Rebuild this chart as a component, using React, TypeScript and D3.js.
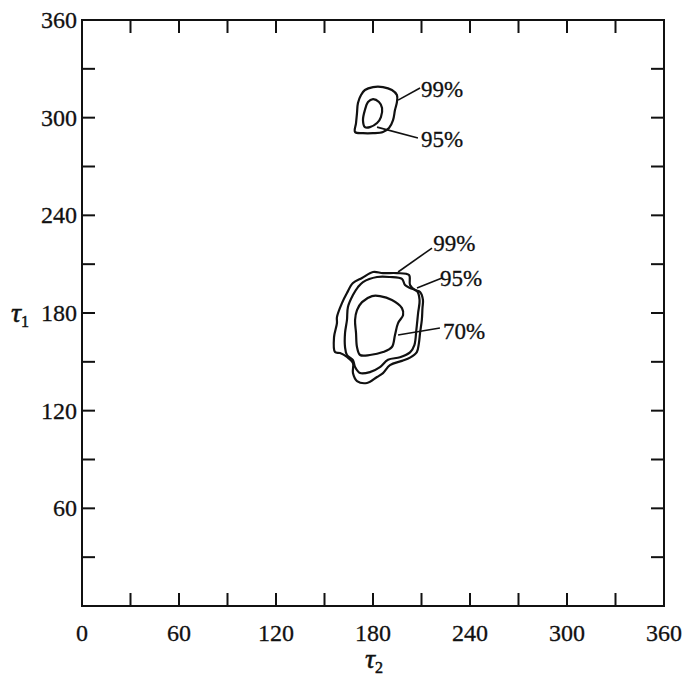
import React from "react";
import * as d3 from "d3";

// Axis ticks (degrees)
const minorTicks = [30, 60, 90, 120, 150, 180, 210, 240, 270, 300, 330];
const xTickLabels = [0, 60, 120, 180, 240, 300, 360];
const yTickLabels = [60, 120, 180, 240, 300, 360];

// Confidence contours as [tau2, tau1] vertices
const upper99: [number, number][] = [
  [175.0, 317.0], [180.0, 318.8], [186.2, 318.8], [191.7, 317.0], [194.8, 313.9],
  [194.8, 309.6], [193.6, 304.7], [192.4, 298.5], [189.9, 293.6], [186.2, 291.2],
  [180.0, 290.5], [173.8, 290.5], [168.9, 291.2], [169.5, 296.7], [170.1, 302.8],
  [170.7, 309.0], [172.6, 313.9],
];
const upper95: [number, number][] = [
  [176.9, 309.6], [180.0, 311.4], [183.7, 309.6], [185.6, 305.9], [184.9, 300.4],
  [182.5, 296.7], [178.1, 294.2], [175.0, 294.2], [173.8, 298.5], [175.0, 304.7],
];
const main99: [number, number][] = [
  [173.2, 201.5], [180.0, 205.2], [186.2, 204.5], [194.8, 204.5], [202.3, 203.3],
  [202.9, 197.2], [206.0, 194.1], [209.1, 192.9], [210.9, 188.0], [210.6, 183.0],
  [210.2, 175.7], [209.1, 167.7], [208.4, 161.5], [207.1, 156.0], [202.9, 152.6],
  [197.9, 150.6], [190.5, 148.0], [186.2, 143.1], [182.5, 140.7], [176.3, 137.0],
  [170.1, 138.2], [167.6, 143.1], [167.6, 149.3], [163.9, 153.0], [159.6, 155.4],
  [156.5, 156.0], [155.9, 165.2], [157.7, 173.8], [157.7, 177.5], [160.8, 186.1],
  [163.9, 192.3], [167.6, 198.4],
];
const main95: [number, number][] = [
  [173.8, 199.0], [182.5, 202.1], [190.5, 202.1], [197.9, 200.9], [199.8, 197.2],
  [202.9, 195.3], [207.2, 193.5], [208.8, 188.0], [207.9, 180.0], [206.8, 169.5],
  [205.6, 160.3], [202.9, 155.8], [196.7, 152.8], [189.3, 151.3], [184.3, 146.8],
  [178.1, 143.7], [172.0, 143.1], [168.9, 146.8], [167.6, 151.1], [163.9, 154.2],
  [162.7, 159.1], [162.7, 167.7], [163.9, 175.7], [164.5, 183.7], [167.6, 191.0],
  [170.7, 195.9],
];
const main70: [number, number][] = [
  [170.1, 181.8], [173.2, 186.7], [179.4, 190.4], [184.3, 190.4], [191.7, 188.0],
  [197.9, 183.0], [198.6, 178.7], [195.5, 173.8], [193.6, 166.5], [191.7, 159.1],
  [186.2, 156.0], [178.1, 154.2], [172.0, 154.2], [170.1, 159.1], [169.5, 167.7],
  [168.9, 175.7],
];
const contours = [upper99, upper95, main99, main95, main70];

// Contour labels: text, leader start (on contour), leader end, text anchor point
const labelTexts = ["99%", "95%", "99%", "95%", "70%"];
const leaderFrom: [number, number][] = [
  [195.5, 310.8], [182.5, 294.2], [195.5, 205.2], [207.2, 195.3], [195.5, 166.5],
];
const leaderTo: [number, number][] = [
  [209.1, 318.2], [207.8, 287.5], [216.5, 219.9], [222.7, 201.5], [221.4, 170.8],
];
const textAt: [number, number][] = [
  [209.7, 312.8], [209.7, 282.2], [217.3, 218.3], [221.4, 196.8], [223.3, 164.2],
];

const W = 684;
const H = 677;
const left = 82;
const right = 664;
const top = 20;
const bottom = 606;

export default function App() {
  const x = d3.scaleLinear().domain([0, 360]).range([left, right]);
  const y = d3.scaleLinear().domain([0, 360]).range([bottom, top]);
  const line = d3
    .line<[number, number]>()
    .x((d) => x(d[0]))
    .y((d) => y(d[1]))
    .curve(d3.curveCatmullRomClosed.alpha(0.5));

  const tickLen = 13;
  const font = "'Liberation Serif', 'Times New Roman', serif";

  return (
    <svg
      width={W}
      height={H}
      viewBox={`0 0 ${W} ${H}`}
      style={{ position: "absolute", left: 0, top: 0, background: "#fff" }}
    >
      <rect x={0} y={0} width={W} height={H} fill="#fff" />
      <g stroke="#111" strokeWidth={2} fill="none">
        <rect x={left} y={top} width={right - left} height={bottom - top} />
        {minorTicks.map((t) => (
          <g key={"t" + t}>
            <line x1={x(t)} x2={x(t)} y1={bottom} y2={bottom - tickLen} />
            <line x1={x(t)} x2={x(t)} y1={top} y2={top + tickLen} />
            <line x1={left} x2={left + tickLen} y1={y(t)} y2={y(t)} />
            <line x1={right} x2={right - tickLen} y1={y(t)} y2={y(t)} />
          </g>
        ))}
      </g>

      <g fontFamily={font} fontSize={24} fill="#111" stroke="#111" strokeWidth={0.3}>
        {xTickLabels.map((t) => (
          <text key={"xl" + t} x={x(t)} y={bottom + 35} textAnchor="middle">
            {t}
          </text>
        ))}
        {yTickLabels.map((t) => (
          <text key={"yl" + t} x={left - 5} y={y(t) + 8} textAnchor="end">
            {t}
          </text>
        ))}
      </g>

      <g fontFamily={font} fill="#111" stroke="#111" strokeWidth={0.5}>
        <text x={365} y={668} fontSize={28} fontStyle="italic">
          τ<tspan fontSize={16} fontStyle="normal" dy={5}>2</tspan>
        </text>
        <text x={11} y={322} fontSize={28} fontStyle="italic">
          τ<tspan fontSize={16} fontStyle="normal" dy={5}>1</tspan>
        </text>
      </g>

      <g fill="none" stroke="#111" strokeWidth={2.2} strokeLinejoin="round">
        {contours.map((c, i) => (
          <path key={"c" + i} d={line(c) ?? ""} />
        ))}
      </g>

      <g stroke="#111" strokeWidth={1.6}>
        {leaderFrom.map((p, i) => (
          <line
            key={"ld" + i}
            x1={x(p[0])}
            y1={y(p[1])}
            x2={x(leaderTo[i][0])}
            y2={y(leaderTo[i][1])}
          />
        ))}
      </g>
      <g fontFamily={font} fontSize={23} fill="#111" stroke="#111" strokeWidth={0.3}>
        {labelTexts.map((t, i) => (
          <text key={"lb" + i} x={x(textAt[i][0])} y={y(textAt[i][1])}>
            {t}
          </text>
        ))}
      </g>
    </svg>
  );
}
